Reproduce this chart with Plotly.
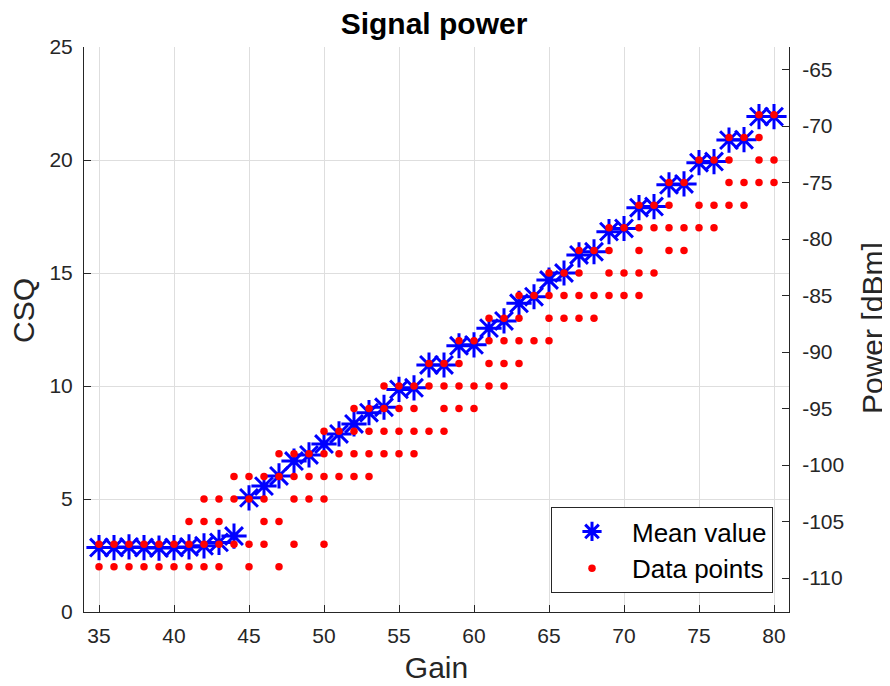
import plotly.graph_objects as go

# ---- data ----
gain = list(range(35, 81))

mean_csq = [2.85, 2.85, 2.88, 2.85, 2.83, 2.85, 2.88, 2.93, 3.08, 3.36,
            5.05, 5.57, 6.02, 6.68, 6.95, 7.43, 7.88, 8.32, 8.82, 9.06,
            9.85, 9.92, 10.93, 10.93, 11.78, 11.82, 12.56, 12.88, 13.66, 13.95,
            14.69, 15.0, 15.8, 15.94, 16.83, 16.97, 17.89, 17.94, 18.9, 18.94,
            19.88, 19.93, 20.88, 20.9, 21.92, 21.92]

data_points = {
    35: [2, 3], 36: [2, 3], 37: [2, 3], 38: [2, 3], 39: [2, 3], 40: [2, 3],
    41: [2, 3, 4], 42: [2, 3, 4, 5], 43: [2, 3, 4, 5], 44: [3, 5, 6],
    45: [2, 3, 5, 6], 46: [3, 4, 5, 6], 47: [2, 4, 6, 7], 48: [3, 5, 6, 7],
    49: [5, 6, 7], 50: [3, 5, 6, 7, 8], 51: [6, 7, 8], 52: [6, 7, 8, 9],
    53: [6, 7, 8, 9], 54: [7, 8, 9, 10], 55: [7, 8, 9, 10], 56: [7, 8, 9, 10],
    57: [8, 10, 11], 58: [8, 9, 10, 11], 59: [9, 10, 11, 12], 60: [9, 10, 12],
    61: [10, 11, 12, 13], 62: [10, 11, 12, 13], 63: [11, 12, 13, 14],
    64: [12, 14], 65: [12, 13, 14, 15], 66: [13, 14, 15], 67: [13, 14, 15, 16],
    68: [13, 14, 16], 69: [14, 15, 16, 17], 70: [14, 15, 17],
    71: [14, 15, 16, 17, 18], 72: [15, 17, 18], 73: [16, 17, 18, 19],
    74: [16, 17, 19], 75: [17, 18, 20], 76: [17, 18, 20],
    77: [18, 19, 20, 21], 78: [18, 19, 21], 79: [19, 20, 21, 22], 80: [19, 20, 22],
}

x_ticks = [35, 40, 45, 50, 55, 60, 65, 70, 75, 80]
csq_ticks = [0, 5, 10, 15, 20, 25]
dbm_ticks = [-110, -105, -100, -95, -90, -85, -80, -75, -70, -65]

# CSQ -> dBm conversion: dBm = 2*CSQ - 113
def to_dbm(v):
    return 2 * v - 113

dp_x = [g for g in gain for _ in data_points[g]]
dp_y = [v for g in gain for v in data_points[g]]

FONT = "Liberation Sans, Arial, sans-serif"
AX = "#262626"
GRID = "#dedede"

# page body has an 8px margin, so the figure is 8px smaller and shifted
W, H = 882, 678
L, R, T, B = 76, 101, 39, 74
PW, PH = W - L - R, H - T - B

fig = go.Figure()

fig.add_trace(go.Scatter(
    x=gain, y=mean_csq, mode="markers", name="Mean value",
    marker=dict(symbol="asterisk-open", size=21, color="#0000ff",
                line=dict(color="#0000ff", width=3)),
))
fig.add_trace(go.Scatter(
    x=dp_x, y=dp_y, mode="markers", name="Data points",
    marker=dict(symbol="circle", size=7.5, color="#ff0000", line=dict(width=0)),
))
# invisible trace to anchor the right-hand power axis
fig.add_trace(go.Scatter(
    x=gain, y=[to_dbm(v) for v in mean_csq], yaxis="y2", mode="markers",
    marker=dict(opacity=0), showlegend=False, hoverinfo="skip",
))

fig.update_layout(
    width=W, height=H,
    margin=dict(l=L, r=R, t=T, b=B, autoexpand=False),
    paper_bgcolor="white", plot_bgcolor="white",
    font=dict(family=FONT, color=AX, size=21),
    title=dict(text="<b>Signal power</b>", x=426 / W, xanchor="center",
               y=1 - 5 / H, yanchor="top", pad=dict(t=0, b=0),
               font=dict(size=30, color="black", family=FONT)),
    xaxis=dict(
        range=[34, 81], tickvals=x_ticks, ticks="inside", ticklen=7,
        tickcolor=AX, showline=True, linecolor=AX, linewidth=1,
        showgrid=True, gridcolor=GRID, gridwidth=1, zeroline=False,
        automargin=False, ticklabelstandoff=5,
        title=dict(text="Gain", font=dict(size=30, color=AX), standoff=10),
        tickfont=dict(size=21, color=AX),
    ),
    yaxis=dict(
        range=[0, 25], tickvals=csq_ticks, ticks="inside", ticklen=7,
        tickcolor=AX, showline=True, linecolor=AX, linewidth=1,
        showgrid=True, gridcolor=GRID, gridwidth=1, zeroline=False,
        automargin=False, ticklabelstandoff=6,
        tickfont=dict(size=21, color=AX),
    ),
    yaxis2=dict(
        range=[-113, -63], tickvals=dbm_ticks, ticktext=[str(v) for v in dbm_ticks],
        overlaying="y", side="right",
        ticks="inside", ticklen=7, tickcolor=AX, showline=True, linecolor=AX,
        linewidth=1, showgrid=False, zeroline=False, automargin=False,
        ticklabelstandoff=8,
        tickfont=dict(size=21, color=AX),
    ),
    legend=dict(
        x=(773 - 84) / 705, xanchor="right", y=(612 - 593) / 565, yanchor="bottom",
        bgcolor="white", bordercolor=AX, borderwidth=1,
        font=dict(size=26, color="black"), itemsizing="trace", itemwidth=70,
        tracegroupgap=0,
    ),
    showlegend=True,
)

# y-axis titles placed as rotated text next to the axes
fig.add_annotation(text="CSQ", xref="paper", yref="paper",
                   x=(15 - L) / PW, y=(PH + T - 303) / PH, textangle=-90,
                   showarrow=False, xanchor="center", yanchor="middle",
                   font=dict(size=30, color=AX, family=FONT))
fig.add_annotation(text="Power [dBm]", xref="paper", yref="paper",
                   x=(864 - L) / PW, y=(PH + T - 320) / PH, textangle=-90,
                   showarrow=False, xanchor="center", yanchor="middle",
                   font=dict(size=30, color=AX, family=FONT))

fig.write_html("out.html")
